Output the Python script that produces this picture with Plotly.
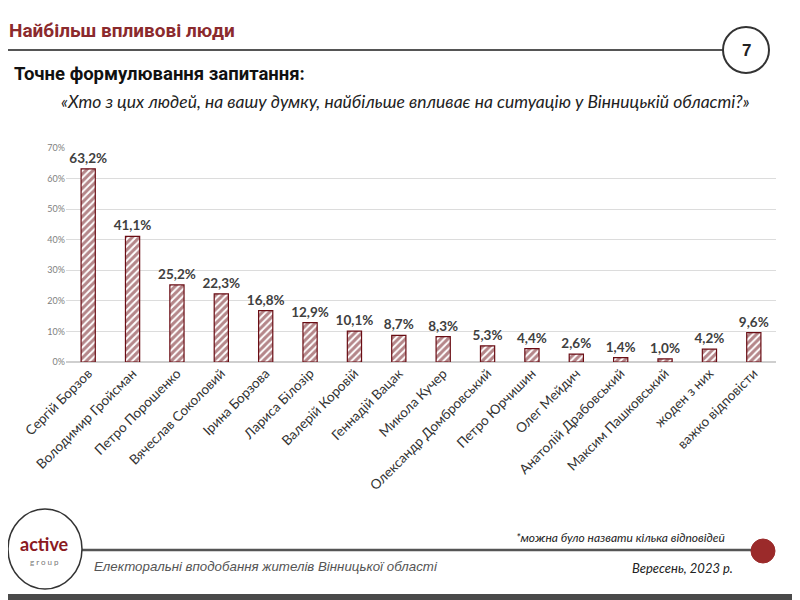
import plotly.graph_objects as go

categories = ["Сергій Борзов", "Володимир Гройсман", "Петро Порошенко", "Вячеслав Соколовий",
              "Ірина Борзова", "Лариса Білозір", "Валерій Коровій", "Геннадій Вацак",
              "Микола Кучер", "Олександр Домбровський", "Петро Юрчишин", "Олег Мейдич",
              "Анатолій Драбовський", "Максим Пашковський", "жоден з них", "важко відповісти"]
values = [63.2, 41.1, 25.2, 22.3, 16.8, 12.9, 10.1, 8.7, 8.3, 5.3, 4.4, 2.6, 1.4, 1.0, 4.2, 9.6]
tick_vals = [0, 10, 20, 30, 40, 50, 60, 70]
tick_text = [f"{v}%" for v in tick_vals]

OFF = 8  # page body margin
W, H = 800 - OFF, 600 - OFF
L, R, T, B = 66 - OFF, 24, 148 - OFF, 238
PW, PH = W - L - R, H - T - B

def px(x):
    return (x - OFF - L) / PW

def py(y):
    return (H - B - (y - OFF)) / PH

DARKRED = "#6a0d14"
labels = [f"{v:.1f}%".replace(".", ",") for v in values]

fig = go.Figure(go.Bar(
    x=categories, y=values, width=0.32,
    marker=dict(color="white", line=dict(color=DARKRED, width=1.2),
                pattern=dict(shape="/", fgcolor=DARKRED, bgcolor="white", size=5, solidity=0.6)),
    text=labels, textposition="outside", cliponaxis=False, constraintext="none",
    textfont=dict(family="Lato, Open Sans, sans-serif", size=13.5, color="#404040", weight="bold"),
))

fig.update_layout(
    width=W, height=H, margin=dict(l=L, r=R, t=T, b=B),
    paper_bgcolor="white", plot_bgcolor="white", showlegend=False,
    xaxis=dict(tickangle=-45, tickfont=dict(family="Lato, Open Sans, sans-serif", size=13.5, color="#333333"),
               showgrid=False, showline=False, ticks="", range=[-0.5, 15.5]),
    yaxis=dict(range=[0, 70], tickvals=tick_vals, ticktext=tick_text,
               tickfont=dict(family="Lato, sans-serif", size=9, color="#808080"),
               gridcolor="#dcdcdc", gridwidth=1, zeroline=True, zerolinecolor="#cfcfcf", ticks=""),
)

shapes = []
annotations = []
# header
annotations.append(dict(x=px(7), y=py(30), xref="paper", yref="paper", xanchor="left", yanchor="middle",
                        text="<b>Найбільш впливові люди</b>", showarrow=False,
                        font=dict(family="Liberation Sans Narrow, Roboto, sans-serif", size=19, color="#8b2a2d")))
shapes.append(dict(type="line", xref="paper", yref="paper", x0=px(8), x1=px(723), y0=py(50), y1=py(50),
                   line=dict(color="#555555", width=2)))
shapes.append(dict(type="circle", xref="paper", yref="paper", x0=px(723), x1=px(769), y0=py(27), y1=py(73),
                   line=dict(color="#333333", width=2), fillcolor="white"))
annotations.append(dict(x=px(746), y=py(51), xref="paper", yref="paper", xanchor="center", yanchor="middle",
                        text="<b>7</b>", showarrow=False,
                        font=dict(family="Liberation Sans, sans-serif", size=17, color="#222222")))
annotations.append(dict(x=px(12), y=py(74), xref="paper", yref="paper", xanchor="left", yanchor="middle",
                        text="<b>Точне формулювання запитання:</b>", showarrow=False,
                        font=dict(family="Liberation Sans Narrow, Roboto, sans-serif", size=18.5, color="#111111")))
annotations.append(dict(x=px(405), y=py(101), xref="paper", yref="paper", xanchor="center", yanchor="middle",
                        text="<i>«Хто з цих людей, на вашу думку, найбільше впливає на ситуацію у Вінницькій області?»</i>",
                        showarrow=False,
                        font=dict(family="Lato, Open Sans, sans-serif", size=17.5, color="#222222")))
# footer
shapes.append(dict(type="line", xref="paper", yref="paper", x0=px(80), x1=px(760), y0=py(550), y1=py(550),
                   line=dict(color="#555555", width=2.5)))
shapes.append(dict(type="circle", xref="paper", yref="paper", x0=px(8), x1=px(82), y0=py(509), y1=py(589),
                   line=dict(color="#333333", width=1.5), fillcolor="white"))
shapes.append(dict(type="circle", xref="paper", yref="paper", x0=px(751), x1=px(775), y0=py(539), y1=py(563),
                   line=dict(color="#9b2a2a", width=1), fillcolor="#9b2a2a"))
shapes.append(dict(type="rect", xref="paper", yref="paper", x0=px(8), x1=px(800), y0=py(594), y1=py(600),
                   line=dict(width=0), fillcolor="#4a4a4a"))
annotations.append(dict(x=px(44), y=py(544), xref="paper", yref="paper", xanchor="center", yanchor="middle",
                        text="<b>active</b>", showarrow=False,
                        font=dict(family="Lato, sans-serif", size=18, color="#8b1a1f")))
annotations.append(dict(x=px(44), y=py(562), xref="paper", yref="paper", xanchor="center", yanchor="middle",
                        text="g r o u p", showarrow=False,
                        font=dict(family="Lato, sans-serif", size=8, color="#777777")))
annotations.append(dict(x=px(727), y=py(537), xref="paper", yref="paper", xanchor="right", yanchor="middle",
                        text="<i>*можна було назвати кілька відповідей</i>", showarrow=False,
                        font=dict(family="Lato, sans-serif", size=12, color="#222222")))
annotations.append(dict(x=px(92), y=py(566), xref="paper", yref="paper", xanchor="left", yanchor="middle",
                        text="<i>Електоральні вподобання жителів Вінницької області</i>", showarrow=False,
                        font=dict(family="Liberation Sans, sans-serif", size=13.3, color="#555555")))
annotations.append(dict(x=px(735), y=py(568), xref="paper", yref="paper", xanchor="right", yanchor="middle",
                        text="<i>Вересень, 2023 р.</i>", showarrow=False,
                        font=dict(family="Lato, sans-serif", size=13, color="#222222")))

fig.update_layout(shapes=shapes, annotations=annotations)
fig.write_html("out.html")
